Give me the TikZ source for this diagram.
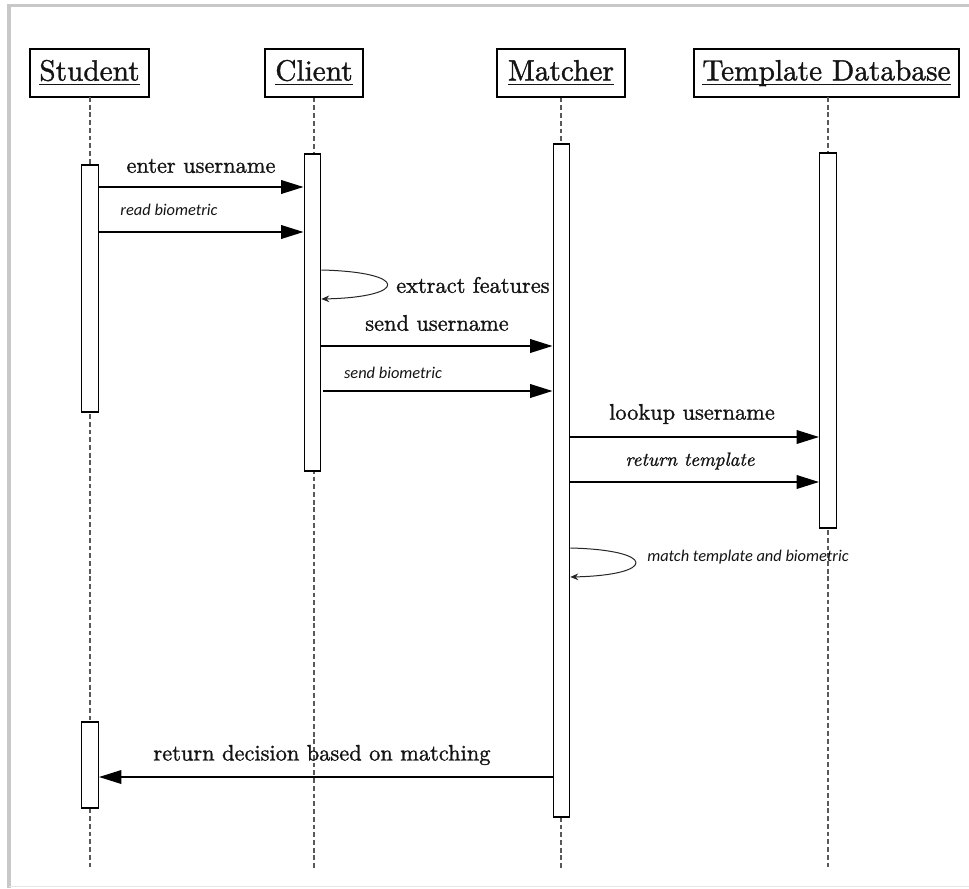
\documentclass[tikz,border=0pt]{standalone}
\usepackage{fontspec}
\usepackage{amsmath}
\usetikzlibrary{arrows.meta}
\setmainfont{lmroman10-regular.otf}[ItalicFont=lmroman10-italic.otf, RawFeature={embolden=1.2}]
\newfontfamily\calib{Carlito}
\newcommand\uname[1]{\underline{\smash[b]{#1}}}
\definecolor{framegray}{HTML}{C8C8C8}
\definecolor{inkdark}{HTML}{141414}
\begin{document}
\begin{tikzpicture}[x=0.75pt,y=-0.75pt,
  actorbox/.style={draw=black, line width=0.9pt, fill=white, inner sep=0pt,
    minimum height={48*0.75pt}, font=\fontsize{22}{26}\selectfont, text=inkdark},
  actbar/.style={draw=black, line width=0.8pt, fill=white, inner sep=0pt,
    minimum width={16.5*0.75pt}},
  lifeline/.style={draw=black!65, line width=1pt, dash pattern=on 3.6pt off 2.2pt},
  msg/.style={line width=2pt, -{Triangle[length=17pt,width=10pt]}},
  selfmsg/.style={line width=0.75pt, draw=black!85, -{Stealth[length=6pt,width=5pt]}},
  lbl/.style={font=\fontsize{16.8}{20}\selectfont, text=inkdark, inner sep=0pt},
  lblit/.style={font=\fontsize{14.4}{18}\selectfont\itshape, text=inkdark, inner sep=0pt},
  lblsans/.style={font=\calib\fontsize{12.3}{14}\selectfont\itshape, text=inkdark, inner sep=0pt}]
\useasboundingbox (0,0) rectangle (969,888);
% page frame
\fill[white] (0,0) rectangle (969,888);
\draw[framegray, line width=2.4pt] (7.5,5.5) -- (969,5.5);
\draw[framegray, line width=2.4pt] (9,4) -- (9,888);
\draw[black!10, line width=0.8pt] (9,886.5) -- (969,886.5);

% participants
\node[actorbox, minimum width={119*0.75pt}] (stu) at (89.5,73) {\uname{Student}};
\node[actorbox, minimum width={98*0.75pt}]  (cli) at (314,73) {\uname{Client}};
\node[actorbox, minimum width={128*0.75pt}] (mat) at (561,73) {\uname{Matcher}};
\node[actorbox, minimum width={265*0.75pt}] (tdb) at (826.5,73) {\uname{Template Database}};

% lifelines
\coordinate (stuTop) at (90,97);
\coordinate (tdbTop) at (828,97);
\coordinate (stuEnd) at (90,868);
\coordinate (cliEnd) at (314,868);
\coordinate (matEnd) at (561,868);
\coordinate (tdbEnd) at (828,868);
\draw[lifeline] (stuTop) -- (stuEnd);
\draw[lifeline] (cli.south) -- (cliEnd);
\draw[lifeline] (mat.south) -- (matEnd);
\draw[lifeline] (tdbTop) -- (tdbEnd);

% activation bars
\node[actbar, minimum height={247*0.75pt}] (aS1) at (90,288.5) {};
\node[actbar, minimum height={86*0.75pt}]  (aS2) at (90,765) {};
\node[actbar, minimum height={317*0.75pt}] (aC)  at (312.5,312.5) {};
\node[actbar, minimum height={673*0.75pt}] (aM)  at (561.5,480.5) {};
\node[actbar, minimum height={375*0.75pt}] (aD)  at (828,340.5) {};

% message end points on the bars
\coordinate (e1a) at (aS1.east |- 0,187);  \coordinate (e1b) at (aC.west |- 0,187);
\coordinate (e2a) at (aS1.east |- 0,232);  \coordinate (e2b) at (aC.west |- 0,232);
\coordinate (l1a) at (aC.east |- 0,270);   \coordinate (l1b) at (aC.east |- 0,299);
\coordinate (e3a) at (aC.east |- 0,346);   \coordinate (e3b) at (aM.west |- 0,346);
\coordinate (e4a) at (323,391);            \coordinate (e4b) at (aM.west |- 0,391);
\coordinate (e5a) at (aM.east |- 0,437);   \coordinate (e5b) at (aD.west |- 0,437);
\coordinate (e6a) at (aM.east |- 0,482);   \coordinate (e6b) at (aD.west |- 0,482);
\coordinate (l2a) at (aM.east |- 0,548);   \coordinate (l2b) at (aM.east |- 0,577);
\coordinate (e7a) at (aM.west |- 0,777);   \coordinate (e7b) at (aS2.east |- 0,777);

% messages
\draw[msg] (e1a) -- (e1b);
\node[lbl] (t1) at (201,166) {enter username};
\draw[msg] (e2a) -- (e2b);
\node[lblsans] (t2) at (169,210) {read biometric};

\draw[selfmsg] (l1a) .. controls (409,272) and (409,297) .. (l1b);
\node[lbl, anchor=west] (t3) at (396,285) {extract features};

\draw[msg] (e3a) -- (e3b);
\node[lbl] (t4) at (437,323) {send username};
\draw[msg] (e4a) -- (e4b);
\node[lblsans] (t5) at (393,373) {send biometric};

\draw[msg] (e5a) -- (e5b);
\node[lbl] (t6) at (692,414) {lookup username};
\draw[msg] (e6a) -- (e6b);
\node[lblit] (t7) at (690,461) {return template};

\draw[selfmsg] (l2a) .. controls (657,550) and (657,575) .. (l2b);
\node[lblsans, anchor=west] (t8) at (647,557) {match template and biometric};

\draw[msg] (e7a) -- (e7b);
\node[lbl] (t9) at (322,755) {return decision based on matching};
\end{tikzpicture}
\end{document}
